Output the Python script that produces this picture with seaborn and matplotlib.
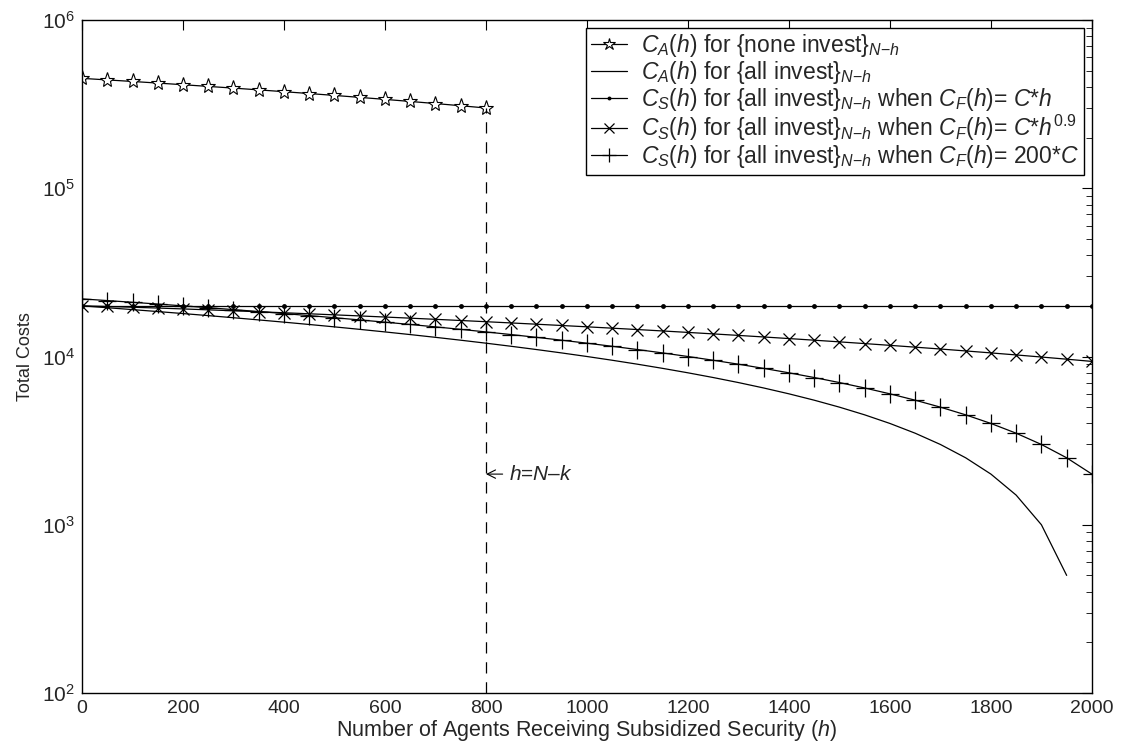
import numpy as np
import pandas as pd
import matplotlib
matplotlib.use("Agg")
import matplotlib.pyplot as plt
import seaborn as sns

# valeurs (h par pas de 50)
h_all = list(range(0, 2001, 50))
h_none = list(range(0, 801, 50))

ca_none = [450000, 440600, 431300, 421900, 412500, 403100, 393800, 384400, 375000,
           365600, 356300, 346900, 337500, 328100, 318800, 309400, 300000]

ca_all = [20000, 19500, 19000, 18500, 18000, 17500, 17000, 16500, 16000, 15500,
          15000, 14500, 14000, 13500, 13000, 12500, 12000, 11500, 11000, 10500,
          10000, 9500, 9000, 8500, 8000, 7500, 7000, 6500, 6000, 5500,
          5000, 4500, 4000, 3500, 3000, 2500, 2000, 1500, 1000, 500]

cs_lin = [20000] * 41

cs_pow = [20000, 19838, 19631, 19409, 19177, 18939, 18696, 18448, 18197, 17943,
          17685, 17426, 17164, 16900, 16635, 16368, 16100, 15830, 15559, 15286,
          15012, 14737, 14461, 14184, 13906, 13627, 13347, 13066, 12784, 12502,
          12219, 11935, 11650, 11365, 11079, 10792, 10505, 10217, 9929, 9640, 9351]

cs_const = [22000, 21500, 21000, 20500, 20000, 19500, 19000, 18500, 18000, 17500,
            17000, 16500, 16000, 15500, 15000, 14500, 14000, 13500, 13000, 12500,
            12000, 11500, 11000, 10500, 10000, 9500, 9000, 8500, 8000, 7500,
            7000, 6500, 6000, 5500, 5000, 4500, 4000, 3500, 3000, 2500, 2000]

k_boundary = 800
annot_y = 2000

labels = [
    r"$C_A$($h$) for {none invest}$_{N\mathrm{-}h}$",
    r"$C_A$($h$) for {all invest}$_{N\mathrm{-}h}$",
    r"$C_S$($h$) for {all invest}$_{N\mathrm{-}h}$ when $C_F$($h$)= $C$*$h$",
    r"$C_S$($h$) for {all invest}$_{N\mathrm{-}h}$ when $C_F$($h$)= $C$*$h^{\mathrm{0.9}}$",
    r"$C_S$($h$) for {all invest}$_{N\mathrm{-}h}$ when $C_F$($h$)= 200*$C$",
]

sns.set_style("white")
plt.rcParams['font.family'] = ['Liberation Sans', 'DejaVu Sans']
plt.rcParams['mathtext.fontset'] = 'custom'
plt.rcParams['mathtext.rm'] = 'Liberation Sans'
plt.rcParams['mathtext.it'] = 'Liberation Sans:italic'
plt.rcParams['mathtext.bf'] = 'Liberation Sans:bold'

fig = plt.figure(figsize=(11.28, 7.47), dpi=100)
ax = fig.add_axes([0.0727, 0.0723, 0.8953, 0.9009])

lw = 0.9
common = dict(ax=ax, color='black', lw=lw, markeredgecolor='black')
sns.lineplot(x=h_none, y=ca_none, marker='*', markersize=11, markerfacecolor='white',
             markeredgewidth=0.8, label=labels[0], **common)
sns.lineplot(x=h_all[:len(ca_all)], y=ca_all, label=labels[1], **common)
sns.lineplot(x=h_all, y=cs_lin, marker='o', markersize=3.5, markeredgewidth=0,
             label=labels[2], **common)
sns.lineplot(x=h_all, y=cs_pow, marker='x', markersize=9, markeredgewidth=0.9,
             label=labels[3], **common)
sns.lineplot(x=h_all, y=cs_const, marker='+', markersize=13, markeredgewidth=0.9,
             label=labels[4], **common)

ax.vlines(k_boundary, 100, ca_none[-1], colors='black', linestyles=(0, (9, 7)), lw=0.9)
ax.annotate(r"$h$=$N$–$k$", xy=(k_boundary, annot_y), xytext=(k_boundary + 45, annot_y),
            fontsize=15, va='center', ha='left',
            arrowprops=dict(arrowstyle='->', lw=0.8, color='black', shrinkA=2, shrinkB=0))

ax.set_yscale('log')
ax.set_xlim(0, 2000)
ax.set_ylim(1e2, 1e6)
ax.set_xticks(range(0, 2001, 200))
ax.tick_params(which='both', direction='in', top=True, right=True, color='black')
ax.tick_params(axis='x', labelsize=14, pad=5)
ax.tick_params(axis='y', labelsize=15, pad=5)
ax.tick_params(which='major', length=7, width=0.8)
ax.tick_params(which='minor', length=4, width=0.6)
for s in ax.spines.values():
    s.set_color('black')
    s.set_linewidth(1.0)

ax.set_xlabel(r"Number of Agents Receiving Subsidized Security ($h$)", fontsize=15.5, labelpad=1)
ax.set_ylabel("Total Costs", fontsize=13, labelpad=6)

leg = ax.legend(loc='upper right', bbox_to_anchor=(0.9985, 0.999), fontsize=16.5,
                frameon=True, fancybox=False, edgecolor='black', handlelength=1.6,
                markerscale=0.8, borderpad=0.2, labelspacing=0.0, handletextpad=0.6,
                borderaxespad=0.3)
leg.get_frame().set_linewidth(1.0)
leg.get_frame().set_alpha(1)

fig.savefig("out.png", dpi=100)
